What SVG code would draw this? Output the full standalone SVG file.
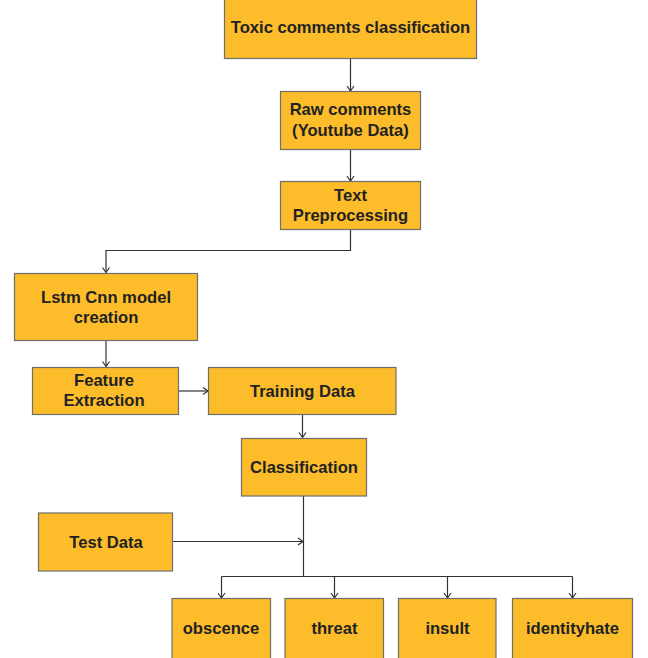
<svg xmlns="http://www.w3.org/2000/svg" width="648" height="658" viewBox="0 0 648 658">
<defs>
<style>
.box{fill:#FDBD2B;stroke:#6e6e6e;stroke-width:1.2}
.t{font-family:"Liberation Sans",Arial,sans-serif;font-weight:bold;font-size:16.6px;fill:#222;text-anchor:middle;dominant-baseline:central}
.c{fill:none;stroke:#333;stroke-width:1.2}
</style>
<marker id="a" markerWidth="10" markerHeight="10" refX="8" refY="5" orient="auto" markerUnits="userSpaceOnUse">
<polyline points="3,1.5 8,5 3,8.5" fill="none" stroke="#333" stroke-width="1.2"/>
</marker>
</defs>
<rect width="648" height="658" fill="#fff"/>
<g id="connectors">
<path class="c" d="M350.5,58.5 V91" marker-end="url(#a)"/>
<path class="c" d="M350.5,149.5 V181" marker-end="url(#a)"/>
<path class="c" d="M350.5,229.5 V250.5 H106 V272.5" marker-end="url(#a)"/>
<path class="c" d="M106,340.5 V366.5" marker-end="url(#a)"/>
<path class="c" d="M178.5,391 H208" marker-end="url(#a)"/>
<path class="c" d="M302.5,414 V437.5" marker-end="url(#a)"/>
<path class="c" d="M303.5,496 V576.5"/>
<path class="c" d="M172.5,541.5 H303" marker-end="url(#a)"/>
<path class="c" d="M221.5,576.5 H572.5"/>
<path class="c" d="M221.5,576.5 V598" marker-end="url(#a)"/>
<path class="c" d="M334.5,576.5 V598" marker-end="url(#a)"/>
<path class="c" d="M447.5,576.5 V598" marker-end="url(#a)"/>
<path class="c" d="M572.5,576.5 V598" marker-end="url(#a)"/>
</g>
<g id="toxic"><rect class="box" x="224.5" y="-2" width="252" height="60.5"/><text class="t" x="350.5" y="27">Toxic comments classification</text></g>
<g id="raw"><rect class="box" x="280.5" y="91.5" width="140" height="58"/><text class="t" x="350.5" y="109">Raw comments</text><text class="t" x="350.5" y="130">(Youtube Data)</text></g>
<g id="prep"><rect class="box" x="280.5" y="181.5" width="140" height="48"/><text class="t" x="350.5" y="195">Text</text><text class="t" x="350.5" y="215">Preprocessing</text></g>
<g id="lstm"><rect class="box" x="14.5" y="273.5" width="183" height="67"/><text class="t" x="106" y="297">Lstm Cnn model</text><text class="t" x="106" y="317">creation</text></g>
<g id="feature"><rect class="box" x="32.5" y="367.5" width="146" height="47"/><text class="t" x="104" y="380">Feature</text><text class="t" x="104" y="400">Extraction</text></g>
<g id="training"><rect class="box" x="208.5" y="367.5" width="187.5" height="47"/><text class="t" x="302.5" y="391">Training Data</text></g>
<g id="classification"><rect class="box" x="241.5" y="438.5" width="125" height="57.5"/><text class="t" x="304" y="467">Classification</text></g>
<g id="test"><rect class="box" x="38.5" y="513" width="134" height="58"/><text class="t" x="106" y="542">Test Data</text></g>
<g id="obscence"><rect class="box" x="172" y="598.5" width="98.5" height="62"/><text class="t" x="221" y="628">obscence</text></g>
<g id="threat"><rect class="box" x="285" y="598.5" width="98.5" height="62"/><text class="t" x="334.5" y="628">threat</text></g>
<g id="insult"><rect class="box" x="398.5" y="598.5" width="97.5" height="62"/><text class="t" x="447.5" y="628">insult</text></g>
<g id="identityhate"><rect class="box" x="512.5" y="598.5" width="120" height="62"/><text class="t" x="572.5" y="628">identityhate</text></g>
</svg>
